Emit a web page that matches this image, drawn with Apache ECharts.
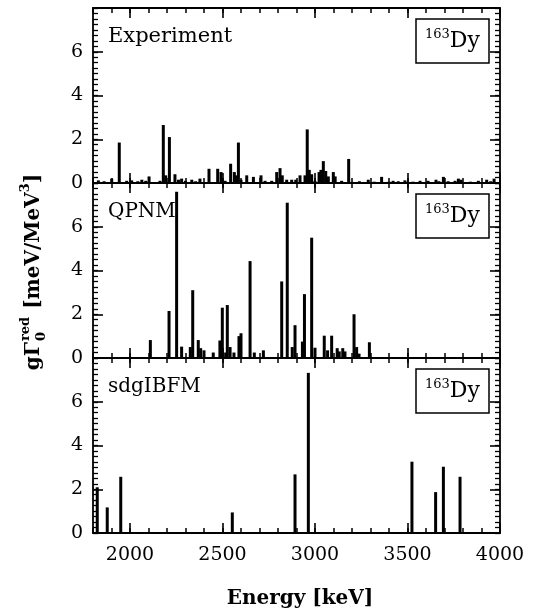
<!DOCTYPE html>
<html><head><meta charset="utf-8">
<script src="https://cdn.jsdelivr.net/npm/echarts@6/dist/echarts.min.js"></script>
<style>html,body{margin:0;padding:0;background:#fff}#c{width:541px;height:611px}</style>
</head><body><div id="c"></div>
<script>
// ---- data ----
const expEnergy = [1829,1860,1901,1942,1982,2009,2042,2064,2085,2103,2162,2180,2193,2213,2243,2262,2279,2300,2334,2355,2378,2427,2474,2492,2514,2544,2564,2573,2586,2600,2631,2667,2708,2730,2766,2793,2811,2823,2847,2874,2896,2919,2946,2958,2969,2982,3000,3022,3032,3045,3058,3072,3099,3109,3144,3182,3200,3240,3288,3320,3360,3400,3422,3450,3486,3530,3568,3611,3654,3670,3694,3720,3757,3775,3790,3840,3883,3928,3950,3968];
const expValue  = [0.12,0.08,0.2,1.85,0.1,0.12,0.08,0.15,0.1,0.3,0.1,2.65,0.35,2.1,0.4,0.15,0.2,0.1,0.15,0.08,0.2,0.65,0.65,0.5,0.1,0.88,0.5,0.35,1.85,0.15,0.35,0.28,0.35,0.1,0.1,0.5,0.68,0.35,0.15,0.15,0.15,0.35,0.35,2.45,0.6,0.4,0.1,0.5,0.6,1.0,0.55,0.3,0.5,0.3,0.1,1.1,0.05,0.08,0.15,0.06,0.28,0.06,0.1,0.08,0.12,0.06,0.1,0.1,0.15,0.08,0.28,0.08,0.1,0.2,0.15,0.06,0.1,0.15,0.08,0.2];
const qpnmEnergy = [2110,2211,2252,2279,2326,2339,2369,2382,2400,2450,2486,2499,2517,2526,2541,2562,2589,2600,2649,2672,2721,2820,2850,2877,2892,2932,2943,2982,3000,3050,3068,3090,3120,3131,3150,3162,3211,3225,3238,3294];
const qpnmValue  = [0.82,2.15,7.6,0.52,0.5,3.1,0.82,0.45,0.35,0.25,0.8,2.3,0.25,2.42,0.5,0.25,1.0,1.13,4.43,0.25,0.35,3.5,7.1,0.5,1.5,0.75,2.92,5.5,0.47,1.02,0.35,1.02,0.45,0.3,0.45,0.3,2.0,0.5,0.2,0.72];
const ibfmEnergy = [1823,1877,1950,2553,2892,2964,3524,3652,3694,3784];
const ibfmValue  = [2.09,1.17,2.57,0.94,2.68,7.32,3.26,1.87,3.03,2.57];
const panelNames = ['Experiment','QPNM','sdgIBFM'];
const nucleusMass = '163';
const nucleusSymbol = 'Dy';
const xTickLabels = [2000,2500,3000,3500,4000];
const yTickLabels = [0,2,4,6];
const xTitle = 'Energy [keV]';

// ---- layout ----
const FONT = 'DejaVu Serif';
const L = 93, W = 407, H = 175;
const tops = [8, 183, 358];
const series = [[expEnergy, expValue],[qpnmEnergy, qpnmValue],[ibfmEnergy, ibfmValue]];
const nameSizes = [21, 20, 20];
// tick positions (frame decoration)
const xMinorTicks = []; for (let v = 1800; v <= 4000; v += 100) xMinorTicks.push(v);
const yMinorTicks = []; for (let k = 0; k <= 32; k++) yMinorTicks.push(k / 4);
const yMajorTicks = [0, 2, 4, 6, 8];

const grid = [], xAxis = [], yAxis = [], ser = [];
function frameLine(){ return {show:true, onZero:false, lineStyle:{color:'#000', width:1.8}}; }
function xTickAxis(g, pos, vals, len, inside, w){
  return {gridIndex:g, type:'value', min:1800, max:4000, interval:100, position:pos,
    axisLine:{show:false}, axisTick:{show:true, inside:inside, length:len, customValues:vals, lineStyle:{color:'#000', width:w}},
    axisLabel:{show:false}, splitLine:{show:false}};
}
tops.forEach((t, i) => {
  grid.push({left:L, top:t, width:W, height:H});
  const mainX = xAxis.length;
  // bottom frame line, short ticks, labels on the lowest panel
  xAxis.push({gridIndex:i, type:'value', min:1800, max:4000, interval:100, position:'bottom',
    axisLine:frameLine(),
    axisTick:{show:true, inside:true, length:5, customValues:xMinorTicks, lineStyle:{color:'#000', width:1.5}},
    axisLabel:{show:i===2, color:'#000', fontFamily:FONT, fontSize:19, margin:13,
      formatter: v => xTickLabels.indexOf(v) >= 0 ? String(v) : ''},
    splitLine:{show:false}});
  // long ticks inside at the bottom
  xAxis.push(xTickAxis(i, 'bottom', xTickLabels, 10, true, 1.6));
  // ticks pointing down into the next panel's top edge
  if (i < 2) {
    xAxis.push(xTickAxis(i, 'bottom', xMinorTicks, 5, false, 1.5));
    xAxis.push(xTickAxis(i, 'bottom', xTickLabels, 10, false, 1.6));
  }
  // top frame line
  xAxis.push({gridIndex:i, type:'value', min:1800, max:4000, interval:100, position:'top',
    axisLine:frameLine(), axisTick:{show:false}, axisLabel:{show:false}, splitLine:{show:false}});
  const mainY = yAxis.length;
  ['left','right'].forEach(pos => {
    yAxis.push({gridIndex:i, type:'value', min:0, max:8, interval:2, position:pos,
      axisLine:frameLine(),
      axisTick:{show:true, inside:true, length:5, customValues:yMinorTicks, lineStyle:{color:'#000', width:1.3}},
      axisLabel:{show: pos==='left', color:'#000', fontFamily:FONT, fontSize:19, margin:10,
        formatter: v => yTickLabels.indexOf(v) >= 0 ? String(v) : ''},
      splitLine:{show:false}});
    yAxis.push({gridIndex:i, type:'value', min:0, max:8, interval:2, position:pos,
      axisLine:{show:false},
      axisTick:{show:true, inside:true, length:10, customValues:yMajorTicks, lineStyle:{color:'#000', width:1.6}},
      axisLabel:{show:false}, splitLine:{show:false}});
  });
  const [en, va] = series[i];
  ser.push({type:'bar', xAxisIndex:mainX, yAxisIndex:mainY, barWidth:3, silent:true,
    itemStyle:{color:'#000'}, data: en.map((e,k) => [e, va[k]])});
});
// thin helper grid above the top panel: its bottom ticks point down into the top panel
grid.push({left:L, top:0, width:W, height:8});
xAxis.push(xTickAxis(3, 'bottom', xMinorTicks, 5, false, 1.5));
xAxis.push(xTickAxis(3, 'bottom', xTickLabels, 10, false, 1.6));
yAxis.push({gridIndex:3, type:'value', min:0, max:1, show:false});

// measure text for the rotated y title
const cv = document.createElement('canvas').getContext('2d');
function tw(txt, size){ cv.font = 'bold ' + size + 'px "' + FONT + '"'; return cv.measureText(txt).width; }
const big = 20, small = 13;
const parts = [];
let x = 0;
parts.push({txt:'g\u0393', size:big, x:0, y:0});
x = tw('g\u0393', big) + 1;
parts.push({txt:'red', size:small, x:x, y:-8});
parts.push({txt:'0', size:small, x:x, y:8});
x += Math.max(tw('red', small), tw('0', small)) + 1;
parts.push({txt:' [meV/MeV', size:big, x:x, y:0});
x += tw(' [meV/MeV', big);
parts.push({txt:'3', size:small, x:x, y:-8});
x += tw('3', small);
parts.push({txt:']', size:big, x:x, y:0});
x += tw(']', big);
const total = x;
const yTitleChildren = parts.map(p => ({type:'text', x: p.x - total/2, y: p.y,
  style:{text:p.txt, fill:'#000', font:'bold ' + p.size + 'px "' + FONT + '"', textVerticalAlign:'middle', textAlign:'left'}}));

const graphic = [];
tops.forEach((t, i) => {
  graphic.push({type:'text', x:108, y:t+29, style:{text:panelNames[i], fill:'#000', font:nameSizes[i] + 'px "' + FONT + '"', textVerticalAlign:'middle'}});
  graphic.push({type:'rect', shape:{x:416, y:t+11, width:73, height:44}, style:{fill:'#fff', stroke:'#000', lineWidth:1.5}});
  graphic.push({type:'text', x:452.5, y:t+33, style:{
    rich:{sup:{font:'13px "' + FONT + '"', fill:'#000', verticalAlign:'top', lineHeight:26},
          main:{font:'22px "' + FONT + '"', fill:'#000', lineHeight:26}},
    text:'{sup|' + nucleusMass + '}{main|' + nucleusSymbol + '}', textAlign:'center', textVerticalAlign:'middle'}});
});
graphic.push({type:'group', x:34, y:272, rotation:Math.PI/2, children:yTitleChildren});
graphic.push({type:'text', x:300, y:599, style:{text:xTitle, fill:'#000', font:'bold 20px "' + FONT + '"', textAlign:'center', textVerticalAlign:'middle'}});

const chart = echarts.init(document.getElementById('c'), null, {renderer:'canvas'});
chart.setOption({animation:false, backgroundColor:'#fff', grid, xAxis, yAxis, series:ser, graphic});
</script></body></html>
